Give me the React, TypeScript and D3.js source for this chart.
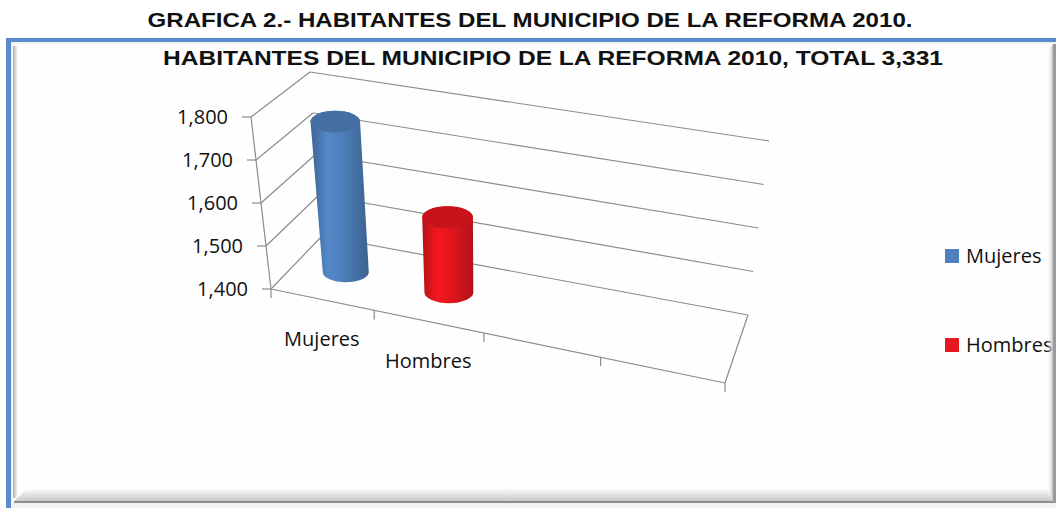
import * as d3 from 'd3';

// chart data
const categories = ["Mujeres", "Hombres", "", ""];
const series = ["Mujeres", "Hombres"];
const values = [1756, 1575];
const seriesColors = ["#4f81bd", "#e8161e"];
const yTicks = [1400, 1500, 1600, 1700, 1800];
const pageTitle = "GRAFICA 2.- HABITANTES DEL MUNICIPIO DE LA REFORMA 2010.";
const chartTitle = "HABITANTES DEL MUNICIPIO DE LA REFORMA 2010, TOTAL 3,331";

const W = 1056;
const H = 508;

// screen corners of the 3D box (front/back, bottom/top, left/right)
const box = {
  fbl: [271, 289], fbr: [725, 383], ftl: [251, 117], ftr: [747, 200],
  bbl: [322, 236], bbr: [748, 315], btl: [310, 72], btr: [769, 141],
};
const PERSP = 0.883; // foreshortening along the category axis

type Pt = [number, number];
const lerp = (a: number[], b: number[], t: number): Pt => [a[0] + (b[0] - a[0]) * t, a[1] + (b[1] - a[1]) * t];

// u: category position 0..1, v: value position 0..1, w: depth 0 (front)..1 (back)
const project = (u: number, v: number, w: number): Pt => {
  const s = (u * PERSP) / (1 - u + u * PERSP);
  const bf = lerp(box.fbl, box.fbr, s);
  const tf = lerp(box.ftl, box.ftr, s);
  const bb = lerp(box.bbl, box.bbr, s);
  const tb = lerp(box.btl, box.btr, s);
  return lerp(lerp(bf, tf, v), lerp(bb, tb, v), w);
};

const xScale = d3.scaleBand<string>().domain(categories.map((c, i) => `${i}`)).range([0, 1]);
const yScale = d3.scaleLinear().domain([1400, 1800]).range([0, 1]);

const GRID = "#8c8c8c";
const seg = (a: Pt, b: Pt) => `M${a[0]},${a[1]}L${b[0]},${b[1]}`;

const Cylinder = ({ i, value, color }: { i: number; value: number; color: string }) => {
  const bw = xScale.bandwidth();
  const uc = (xScale(`${i}`) ?? 0) + bw / 2;
  const half = bw * 0.23;
  const depth = 0.5;
  const v = yScale(value);
  const bot = project(uc, 0, depth);
  const top = project(uc, v, depth);
  const rxB = (project(uc + half, 0, depth)[0] - project(uc - half, 0, depth)[0]) / 2;
  const rxT = (project(uc + half, v, depth)[0] - project(uc - half, v, depth)[0]) / 2;
  const ryB = rxB * 0.44;
  const ryT = rxT * 0.44;
  const body = `M${top[0] - rxT},${top[1]}L${bot[0] - rxB},${bot[1]}` +
    `A${rxB},${ryB} 0 0 0 ${bot[0] + rxB},${bot[1]}` +
    `L${top[0] + rxT},${top[1]}` +
    `A${rxT},${ryT} 0 0 0 ${top[0] - rxT},${top[1]}Z`;
  const c = d3.color(color)!;
  return (
    <g>
      <defs>
        <linearGradient id={`body-${i}`} x1="0" x2="1" y1="0" y2="0">
          <stop offset="0%" stopColor={c.darker(0.7).formatHex()} />
          <stop offset="30%" stopColor={c.brighter(0.15).formatHex()} />
          <stop offset="50%" stopColor={c.formatHex()} />
          <stop offset="100%" stopColor={c.darker(0.75).formatHex()} />
        </linearGradient>
      </defs>
      <path d={body} fill={`url(#body-${i})`} />
      <ellipse cx={top[0]} cy={top[1]} rx={rxT} ry={ryT} fill={c.darker(0.4).formatHex()} />
    </g>
  );
};

export default function App() {
  const bw = xScale.bandwidth();
  const catTicks = [...categories.map((_, i) => xScale(`${i}`) ?? 0), 1];

  return (
    <svg width={W} height={H} style={{ position: 'absolute', left: 0, top: 0, background: '#fff' }}>
      <defs>
        <linearGradient id="bevel-b" x1="0" x2="0" y1="0" y2="1">
          <stop offset="0%" stopColor="#ffffff" />
          <stop offset="100%" stopColor="#c4c4c4" />
        </linearGradient>
        <linearGradient id="bevel-r" x1="0" x2="1" y1="0" y2="0">
          <stop offset="0%" stopColor="#ffffff" stopOpacity={0} />
          <stop offset="100%" stopColor="#bdbdbd" />
        </linearGradient>
        <linearGradient id="bevel-l" x1="0" x2="1" y1="0" y2="0">
          <stop offset="0%" stopColor="#b0b0b0" />
          <stop offset="100%" stopColor="#ffffff" />
        </linearGradient>
      </defs>

      {/* page title */}
      <text x={530} y={27} textAnchor="middle" fontFamily="Liberation Sans, Arial, sans-serif"
        fontWeight="bold" fontSize={21} textLength={765} lengthAdjust="spacingAndGlyphs" fill="#111">
        {pageTitle}
      </text>

      {/* frame */}
      <rect x={6} y={38} width={W - 6} height={4} fill="#5a8bcb" />
      <rect x={6} y={38} width={5} height={H - 38} fill="#5a8bcb" />
      <rect x={11} y={42} width={W - 11} height={H - 42} fill="#f3f3f3" />
      <rect x={13} y={44} width={1040} height={459} fill="#fefefe" />
      <rect x={13} y={46} width={5} height={452} fill="url(#bevel-l)" />

      {/* chart title */}
      <text x={553} y={65} textAnchor="middle" fontFamily="Liberation Sans, Arial, sans-serif"
        fontWeight="bold" fontSize={21} textLength={780} lengthAdjust="spacingAndGlyphs" fill="#111">
        {chartTitle}
      </text>

      {/* walls gridlines */}
      <g stroke={GRID} strokeWidth={1.2} fill="none">
        {yTicks.map(t => (
          <g key={t}>
            <path d={seg(project(0, yScale(t), 0), project(0, yScale(t), 1))} />
            <path d={seg(project(0, yScale(t), 1), project(1, yScale(t), 1))} />
          </g>
        ))}
        {/* floor edges */}
        <path d={seg(project(0, 0, 0), project(1, 0, 0))} />
        <path d={seg(project(1, 0, 0), project(1, 0, 1))} />
        {/* value axis */}
        <path d={seg(project(0, 0, 0), project(0, 1, 0))} />
        {yTicks.map(t => {
          const p = project(0, yScale(t), 0);
          return <path key={t} d={seg([p[0] - 9, p[1]], p)} />;
        })}
        {catTicks.map((u, i) => {
          const p = project(u, 0, 0);
          return <path key={i} d={seg(p, [p[0], p[1] + 9])} />;
        })}
      </g>

      {/* value labels */}
      <g fontFamily="Open Sans, sans-serif" fontSize={20} fill="#111" textAnchor="end">
        {yTicks.map(t => {
          const p = project(0, yScale(t), 0);
          return (
            <text key={t} x={p[0] - 23} y={p[1] + 7}>{d3.format(",")(t)}</text>
          );
        })}
      </g>

      {/* category labels */}
      <g fontFamily="Open Sans, sans-serif" fontSize={20} fill="#111" textAnchor="middle">
        {categories.map((c, i) => {
          const p = project((xScale(`${i}`) ?? 0) + bw / 2, 0, 0);
          return c ? <text key={i} x={p[0]} y={p[1] + 46}>{c}</text> : null;
        })}
      </g>

      {/* cylinders */}
      {values.map((v, i) => (
        <Cylinder key={i} i={i} value={v} color={seriesColors[i]} />
      ))}

      {/* legend */}
      <g fontFamily="Open Sans, sans-serif" fontSize={20} fill="#111">
        {series.map((s, i) => (
          <g key={s} transform={`translate(945,${249 + i * 89})`}>
            <rect width={14} height={14} fill={seriesColors[i]} />
            <text x={21} y={14}>{s}</text>
          </g>
        ))}
      </g>

      {/* bevels */}
      <polygon points={`1047,52 1053,44 1053,502 1047,490`} fill="url(#bevel-r)" />
      <polygon points={`14,502 27,488 1047,488 1053,502`} fill="url(#bevel-b)" />
      <rect x={14} y={501} width={1039} height={2} fill="#8f8f8f" />
      <rect x={1053} y={44} width={3} height={459} fill="#9a9a9a" />
    </svg>
  );
}
